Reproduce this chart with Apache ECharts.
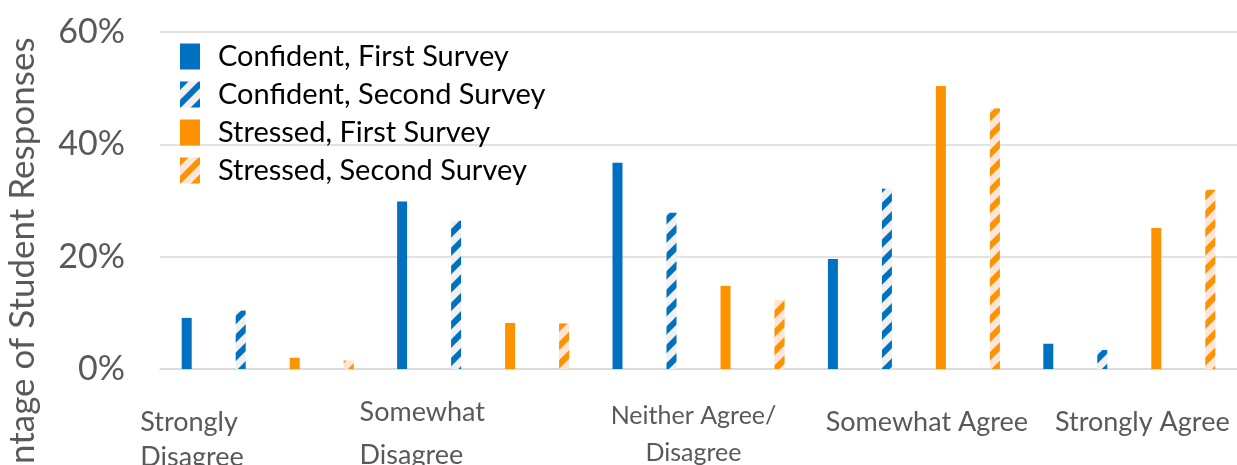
<!DOCTYPE html>
<html>
<head>
<meta charset="utf-8">
<script src="https://cdn.jsdelivr.net/npm/echarts@6/dist/echarts.min.js"></script>
<style>
html,body{margin:0;padding:0;background:#fff;}
#c{width:1237px;height:465px;}
</style>
</head>
<body>
<div id="c"></div>
<script>
var categories = ['Strongly\nDisagree', 'Somewhat\nDisagree', 'Neither Agree/\nDisagree', 'Somewhat Agree', 'Strongly Agree'];
var seriesNames = ['Confident, First Survey', 'Confident, Second Survey', 'Stressed, First Survey', 'Stressed, Second Survey'];
var confidentFirst = [9.1, 29.8, 36.7, 19.6, 4.5];
var confidentSecond = [10.4, 26.4, 27.8, 32.1, 3.4];
var stressedFirst = [2.0, 8.2, 14.8, 50.4, 25.1];
var stressedSecond = [1.5, 8.1, 12.3, 46.4, 31.9];
var yTicks = [0, 20, 40, 60];

var FONT = 'Lato';
var GREY = '#595959';
var BLUE = '#0070c0', ORANGE = '#ff9200';
var stripeDecal = function (c) {
  return { symbol: 'rect', dashArrayX: [1, 0], dashArrayY: [6, 7], rotation: -Math.PI / 4, color: c, symbolSize: 1 };
};

// per-category label styling: [first-line style, second-line style]
var labelStyles = [['a1', 'a2'], ['b1', 'b2'], ['c1', 'c2'], ['d1', 'd1'], ['d1', 'd1']];
function rs(size, lh, extra) {
  var o = { fontFamily: FONT, fontSize: size, color: GREY, lineHeight: lh };
  for (var k in extra) o[k] = extra[k];
  return o;
}

var chart = echarts.init(document.getElementById('c'));
chart.setOption({
  animation: false,
  textStyle: { fontFamily: FONT },
  grid: { left: 160, right: 0, top: 32, bottom: 96, containLabel: false, outerBoundsMode: 'none' },
  legend: {
    orient: 'vertical', left: 180, top: 42, padding: 0, itemWidth: 20, itemHeight: 26, itemGap: 9,
    icon: 'rect',
    textStyle: { fontFamily: FONT, fontSize: 29, color: '#000', lineHeight: 26, padding: [0, 0, 0, 13] },
    data: seriesNames
  },
  xAxis: {
    type: 'category', data: categories,
    axisLine: { lineStyle: { color: '#d9d9d9', width: 1.5 } },
    axisTick: { show: false },
    axisLabel: {
      interval: 0, margin: 25, color: GREY, hideOverlap: false,
      formatter: function (v, i) {
        var s = labelStyles[i];
        return v.split('\n').map(function (l, j) { return '{' + s[j] + '|' + l + '}'; }).join('\n');
      },
      rich: {
        a1: rs(27, 56, { width: 255, align: 'left' }),
        a2: rs(27, 14, { width: 255, align: 'left' }),
        b1: rs(27, 36, { width: 247, align: 'left' }),
        b2: rs(27, 51, { width: 247, align: 'left' }),
        c1: rs(25, 44, { padding: [0, 10, 0, 0] }),
        c2: rs(25, 30, { padding: [0, 10, 0, 0] }),
        d1: rs(27, 56, { padding: [0, 0, 0, 26] })
      }
    }
  },
  yAxis: {
    type: 'value', min: yTicks[0], max: yTicks[yTicks.length - 1], interval: 20,
    name: 'Percentage of Student Responses', nameLocation: 'middle', nameRotate: 90, nameGap: 120,
    nameTextStyle: { fontFamily: FONT, fontSize: 35, color: GREY, padding: [0, 186, 0, 0] },
    axisLabel: { formatter: '{value}%', fontSize: 34, color: GREY, margin: 35 },
    splitLine: { lineStyle: { color: '#d9d9d9', width: 1.5 } }
  },
  series: [
    { name: seriesNames[0], type: 'bar', data: confidentFirst, barWidth: 10, barGap: '440%', itemStyle: { color: BLUE } },
    { name: seriesNames[1], type: 'bar', data: confidentSecond, barWidth: 10, barGap: '440%', itemStyle: { color: '#f0f0f0', decal: stripeDecal(BLUE) } },
    { name: seriesNames[2], type: 'bar', data: stressedFirst, barWidth: 10, barGap: '440%', itemStyle: { color: ORANGE } },
    { name: seriesNames[3], type: 'bar', data: stressedSecond, barWidth: 10, barGap: '440%', itemStyle: { color: '#fbe5d6', decal: stripeDecal(ORANGE) } }
  ]
});
</script>
</body>
</html>
